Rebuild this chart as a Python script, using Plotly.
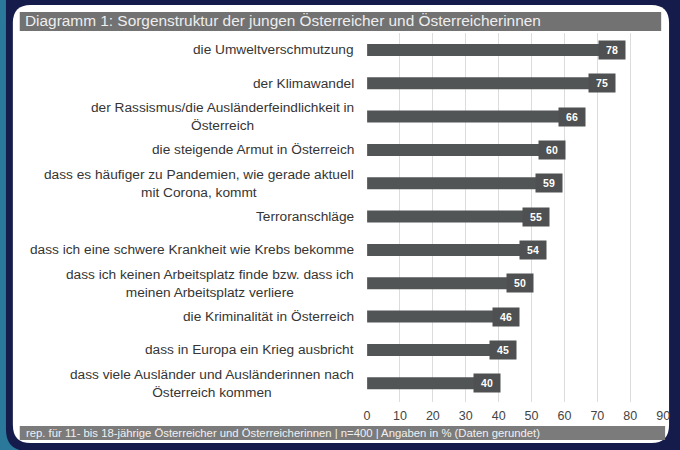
import plotly.graph_objects as go

# ---------------- data ----------------
categories = [
    "die Umweltverschmutzung",
    "der Klimawandel",
    "der Rassismus/die Ausländerfeindlichkeit in<br>Österreich",
    "die steigende Armut in Österreich",
    "dass es häufiger zu Pandemien, wie gerade aktuell<br>mit Corona, kommt",
    "Terroranschläge",
    "dass ich eine schwere Krankheit wie Krebs bekomme",
    "dass ich keinen Arbeitsplatz finde bzw. dass ich<br>meinen Arbeitsplatz verliere",
    "die Kriminalität in Österreich",
    "dass in Europa ein Krieg ausbricht",
    "dass viele Ausländer und Ausländerinnen nach<br>Österreich kommen",
]
values = [78, 75, 66, 60, 59, 55, 54, 50, 46, 45, 40]
x_ticks = [0, 10, 20, 30, 40, 50, 60, 70, 80, 90]
title_text = "Diagramm 1: Sorgenstruktur der jungen Österreicher und Österreicherinnen"
footer_text = ("rep. für 11- bis 18-jährige Österreicher und Österreicherinnen | n=400 | "
               "Angaben in % (Daten gerundet)")

W, H = 680, 450
FONT = "Liberation Sans, Arial, sans-serif"


def px(x):
    return x / W


def py(y):
    return 1 - y / H


def rrect(x0, y0, x1, y1, r):
    rx, ry = r / W, r / H
    X0, X1 = px(x0), px(x1)
    Y0, Y1 = py(y0), py(y1)  # Y0 top, Y1 bottom
    return (f"M {X0+rx},{Y0} L {X1-rx},{Y0} Q {X1},{Y0} {X1},{Y0-ry} "
            f"L {X1},{Y1+ry} Q {X1},{Y1} {X1-rx},{Y1} "
            f"L {X0+rx},{Y1} Q {X0},{Y1} {X0},{Y1+ry} "
            f"L {X0},{Y0-ry} Q {X0},{Y0} {X0+rx},{Y0} Z")


fig = go.Figure()
fig.add_trace(go.Bar(
    x=values, y=categories, orientation="h",
    marker=dict(color="#525556", line=dict(width=0)),
    width=0.36, hoverinfo="skip",
))

shapes = [
    dict(type="path", xref="paper", yref="paper", path=rrect(3, -30, 720, 451, 22),
         fillcolor="#151b4b", line=dict(width=0), layer="below"),
    dict(type="path", xref="paper", yref="paper", path=rrect(10, 5, 676, 443, 18),
         fillcolor="#ffffff", line=dict(width=0), layer="below"),
    dict(type="rect", xref="paper", yref="paper", x0=px(17), x1=px(668), y0=py(12), y1=py(31),
         fillcolor="#727272", line=dict(width=0), layer="below"),
    dict(type="rect", xref="paper", yref="paper", x0=px(17), x1=px(672), y0=py(426), y1=py(440),
         fillcolor="#7b7b7b", line=dict(width=0), layer="below"),
]

annotations = [
    dict(xref="paper", yref="paper", x=px(20), y=py(21), text=title_text, showarrow=False,
         xanchor="left", yanchor="middle", font=dict(family=FONT, size=15.4, color="#eeeeee")),
    dict(xref="paper", yref="paper", x=px(21), y=py(433), text=footer_text, showarrow=False,
         xanchor="left", yanchor="middle", font=dict(family=FONT, size=11.3, color="#f0f0f0")),
]
for cat, v in zip(categories, values):
    annotations.append(dict(
        xref="paper", yref="y", x=px(358), y=cat, text=cat, showarrow=False,
        xanchor="right", yanchor="middle", align="center",
        font=dict(family=FONT, size=13.7, color="#353535")))
    annotations.append(dict(
        xref="x", yref="y", x=v, y=cat, text=f"<b>{v}</b>", showarrow=False,
        xanchor="right", yanchor="middle", xshift=2, width=24, height=16,
        bgcolor="#4e5051", borderpad=1,
        font=dict(family=FONT, size=10.5, color="#ffffff")))

fig.update_layout(
    width=W, height=H,
    margin=dict(l=0, r=0, t=0, b=0),
    paper_bgcolor="#2a789a",
    plot_bgcolor="rgba(0,0,0,0)",
    showlegend=False,
    shapes=shapes,
    annotations=annotations,
    xaxis=dict(domain=[369.5 / W, 670 / W], range=[0, 90], tickvals=x_ticks,
               showgrid=True, gridcolor="#dcdcdc", gridwidth=1, zeroline=False,
               showline=False, ticks="", ticklabelstandoff=5,
               tickfont=dict(family=FONT, size=12.5, color="#444444"),
               fixedrange=True),
    yaxis=dict(domain=[1 - 401.75 / H, 1 - 33.25 / H], autorange="reversed",
               showticklabels=False, showgrid=False, zeroline=False, ticks="",
               categoryorder="array", categoryarray=categories, fixedrange=True),
)

fig.write_html("out.html", config={"displayModeBar": False},
               post_script="document.body.style.margin='0';document.body.style.overflow='hidden';")
